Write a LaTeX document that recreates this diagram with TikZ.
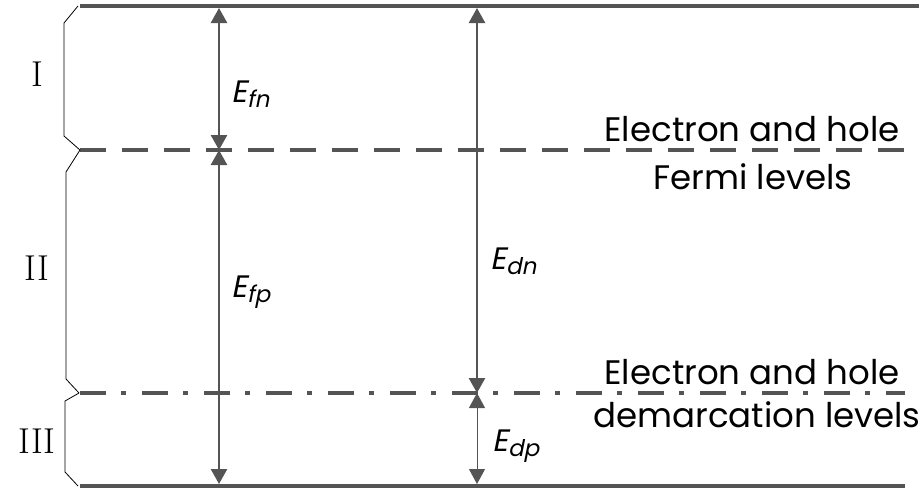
\documentclass[tikz,border=0pt]{standalone}
\usepackage{fontspec}
\setmainfont{Poppins}
\newfontfamily\slfont{Poppins}[FakeSlant=0.2]
\newfontfamily\romfont{Latin Modern Roman}
\usetikzlibrary{arrows.meta}
\definecolor{ink}{gray}{0.33}
\begin{document}
\begin{tikzpicture}[x=1pt,y=-1pt,
  level/.style={ink,line width=4.5pt},
  tip/.style={Triangle[width=16pt,length=15pt]},
  dim/.style={ink,line width=2.5pt,{Triangle[width=16pt,length=15pt]}-{Triangle[width=16pt,length=15pt]}},
  thindim/.style={ink,line width=1pt,{Triangle[width=16pt,length=15pt]}-{Triangle[width=16pt,length=15pt]}},
  brace/.style={black,line width=0.8pt},
  lab/.style={font=\slfont\fontsize{31}{31}\selectfont,anchor=west,inner sep=0pt},
  side/.style={font=\fontsize{34}{34}\selectfont,inner sep=0pt,anchor=base},
  roman/.style={font=\romfont\fontsize{36}{36}\selectfont,inner sep=0pt}]
\useasboundingbox (0,0) rectangle (919,491);
% level coordinates
\coordinate (tl) at (80,6);   \coordinate (tr) at (919,6);
\coordinate (fl) at (80,150); \coordinate (fr) at (905,150);
\coordinate (dl) at (80,393); \coordinate (dr) at (905,393);
\coordinate (bl) at (80,486); \coordinate (br) at (905,486);
\draw[level] (tl) -- (tr);
\draw[level,dash pattern=on 26pt off 16pt] (fl) -- (fr);
\draw[level,dash pattern=on 26pt off 15pt on 5pt off 16pt] (dl) -- (dr);
\draw[level] (bl) -- (br);
% arrows
\coordinate (a1) at (219,8);   \coordinate (a2) at (219,150); \coordinate (a3) at (219,484);
\coordinate (b1) at (477,8);   \coordinate (b2) at (477,393); \coordinate (b3) at (477,484);
\draw[dim] (a1) -- (a2);
\draw[dim] (a2) -- (a3);
\draw[dim] (b1) -- (b2);
\draw[thindim] (b2) -- (b3);
\node[lab] (efn) at (231,94) {E\raisebox{-0.3ex}{\fontsize{23}{23}\selectfont fn}};
\node[lab] (efp) at (231,292) {E\raisebox{-0.3ex}{\fontsize{23}{23}\selectfont fp}};
\node[lab] (edn) at (490,261) {E\raisebox{-0.3ex}{\fontsize{23}{23}\selectfont dn}};
\node[lab] (edp) at (492,446) {E\raisebox{-0.3ex}{\fontsize{23}{23}\selectfont dp}};
% right labels
\node[side] (f1) at (752,141) {Electron and hole};
\node[side] (f2) at (753,189) {Fermi levels};
\node[side] (d1) at (752,384) {Electron and hole};
\node[side] (d2) at (757,427) {demarcation levels};
% braces
\draw[brace] (78,6) -- (64,23) -- (64,136) -- (80,150);
\draw[brace] (80,150) -- (66,172) -- (66,379) -- (79,393);
\draw[brace] (79,393) -- (65,401) -- (65,472) -- (78,486);
\node[roman] (r1) at (37,74) {I};
\node[roman] (r2) at (37,268) {II};
\node[roman] (r3) at (37,441) {III};
\end{tikzpicture}
\end{document}
